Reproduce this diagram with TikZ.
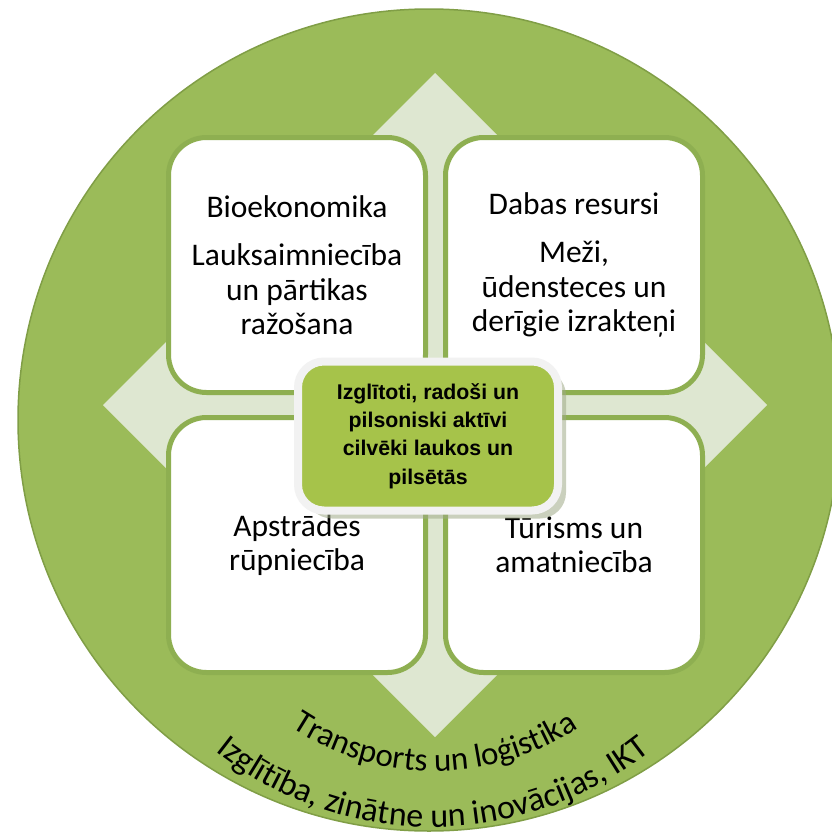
\documentclass[tikz,border=0pt]{standalone}
\usepackage{fontspec}
\newfontfamily\boxfont{Carlito}
\newfontfamily\corefont{Liberation Sans}
\usetikzlibrary{positioning,shadows,decorations.text}
\definecolor{ringgreen}{RGB}{155,187,89}
\definecolor{ringedge}{RGB}{128,158,70}
\definecolor{crosslight}{RGB}{222,231,209}
\definecolor{boxedge}{RGB}{142,175,81}
\definecolor{coregreen}{RGB}{166,195,74}
\definecolor{coreedge}{RGB}{242,242,242}
\definecolor{coreshadow}{RGB}{160,170,135}
\tikzset{
ring/.style={fill=ringgreen,draw=ringedge,line width=1.5pt},
crossarm/.style={fill=crosslight},
sector/.style={draw=boxedge,line width=5pt,fill=white,rounded corners=38pt,
minimum width=257pt,minimum height=255pt,align=center,
font=\boxfont\fontsize{31.5}{34.5}\selectfont},
core/.style={draw=coreedge,line width=8pt,fill=coregreen,rounded corners=26pt,
minimum width=260pt,minimum height=149pt,align=center,
font=\corefont\bfseries\fontsize{21.3}{28.3}\selectfont,
drop shadow={shadow xshift=8pt,shadow yshift=-8pt,fill=coreshadow,opacity=.55}}
}

\begin{document}
\begin{tikzpicture}[x=1pt,y=-1pt]
\useasboundingbox (0,0) rectangle (831,835);

\coordinate (mid) at (429,420);
\coordinate (hub) at (435,405);
\coordinate (arcup) at (435,511);
\coordinate (arcdown) at (433,477);

\draw[ring] (mid) circle[radius=411];

% four-way arrow behind the boxes
\begin{scope}[shift={(hub)}]
\foreach \a in {0,90,180,270}
  \fill[crossarm,rotate=\a] (0,-40) -- (222,-40) -- (222,-110) -- (332,0)
    -- (222,110) -- (222,40) -- (0,40) -- cycle;
\end{scope}

\node[sector] (bio) [above left=10pt and 7pt of hub] {Bioekonomika\\[14pt]Lauksaimniecība\\un pārtikas\\ražošana};
\node[sector] (daba) [above right=10pt and 8pt of hub] {Dabas resursi\\[14pt]Meži,\\ūdensteces un\\derīgie izrakteņi};
\node[sector] (apstr) [below left=10pt and 7pt of hub] {Apstrādes\\rūpniecība};
\node[sector] (tur) [below right=10pt and 8pt of hub] {Tūrisms un\\amatniecība};

\node[core] (cilv) at (428,436) {Izglītoti, radoši un\\pilsoniski aktīvi\\cilvēki laukos un\\pilsētās};

\path[decorate,decoration={text along path,text align=center,
  text={|\boxfont\fontsize{33}{40}\selectfont|Transports un loģistika}}]
  (arcup) ++(140:260) arc[start angle=140,end angle=40,radius=260];
\path[decorate,decoration={text along path,text align=center,
  text={|\boxfont\fontsize{34}{40}\selectfont|Izglītība, zinātne un inovācijas, IKT}}]
  (arcdown) ++(140:350) arc[start angle=140,end angle=40,radius=350];

\end{tikzpicture}
\end{document}
